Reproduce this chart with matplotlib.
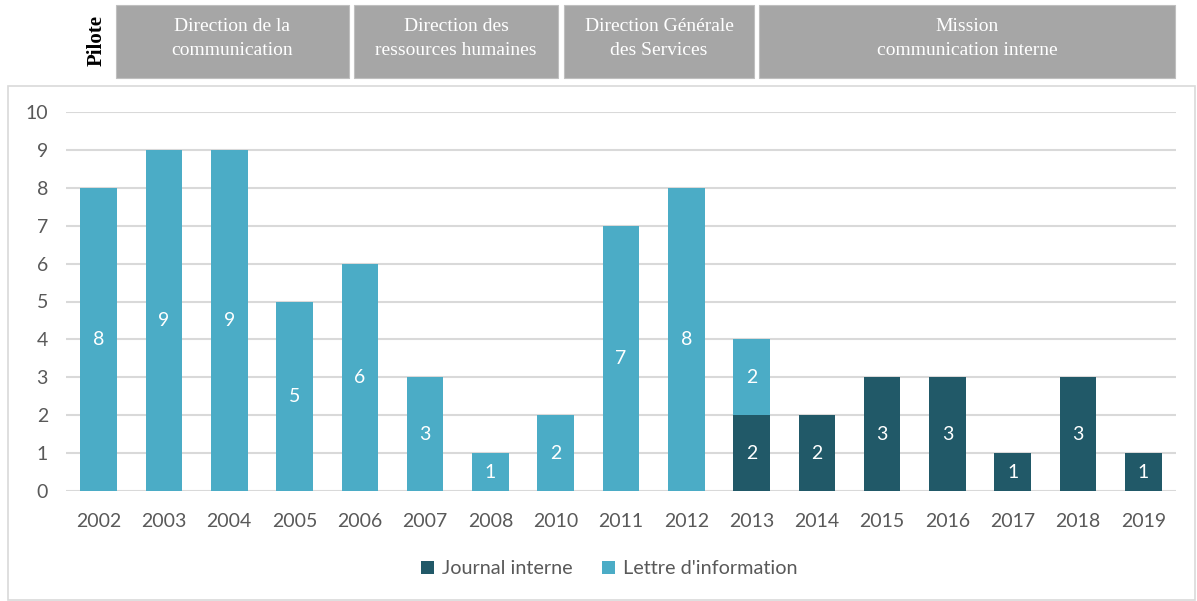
import matplotlib.pyplot as plt
from matplotlib.patches import Rectangle
import numpy as np

# Data
years = ["2002", "2003", "2004", "2005", "2006", "2007", "2008", "2010", "2011",
         "2012", "2013", "2014", "2015", "2016", "2017", "2018", "2019"]
journal = [0, 0, 0, 0, 0, 0, 0, 0, 0, 0, 2, 2, 3, 3, 1, 3, 1]
lettre = [8, 9, 9, 5, 6, 3, 1, 2, 7, 8, 2, 0, 0, 0, 0, 0, 0]

pilotes = ["Direction de la\ncommunication", "Direction des\nressources humaines",
           "Direction Générale\ndes Services", "Mission\ncommunication interne"]
# pixel spans of the header boxes
pilote_spans = [(116, 349), (354, 558), (564, 754), (759, 1175)]

dark = "#215968"
light = "#4bacc6"
grey_text = "#595959"

W, H = 1197, 601
fig = plt.figure(figsize=(W / 100, H / 100), dpi=100)

# Outer chart border (behind the axes)
fig.add_artist(Rectangle((8 / W, 1 - 600 / H), (1195 - 8) / W, (600 - 86) / H,
                         transform=fig.transFigure, facecolor="white",
                         edgecolor="#d9d9d9", linewidth=1.2, zorder=-5))

# Header boxes
for label, (x0, x1) in zip(pilotes, pilote_spans):
    fig.add_artist(Rectangle((x0 / W, 1 - 78 / H), (x1 - x0) / W, (78 - 5) / H,
                             transform=fig.transFigure, facecolor="#a6a6a6",
                             edgecolor="#bfbfbf", linewidth=0.8, zorder=-5))
    fig.text((x0 + x1) / 2 / W, 1 - 38.5 / H, label, ha="center", va="center",
             color="white", fontsize=14, family="Liberation Serif",
             linespacing=1.6)
fig.text(97 / W, 1 - 41 / H, "Pilote", rotation=90, ha="center", va="center",
         fontsize=15, fontweight="bold", family="Liberation Serif")

# Bar chart
ax = fig.add_axes([66 / W, 110 / H, 1110 / W, 379 / H])
x = np.arange(len(years))
width = 0.56
ax.bar(x, journal, width, color=dark, label="Journal interne", zorder=3)
ax.bar(x, lettre, width, bottom=journal, color=light, label="Lettre d'information", zorder=3)

for i in range(len(years)):
    if journal[i] > 0:
        ax.text(x[i], journal[i] / 2, str(journal[i]), ha="center", va="center",
                color="white", fontsize=14, family="Lato", zorder=4)
    if lettre[i] > 0:
        ax.text(x[i], journal[i] + lettre[i] / 2, str(lettre[i]), ha="center",
                va="center", color="white", fontsize=14, family="Lato", zorder=4)

ax.set_xlim(-0.5, len(years) - 0.5)
ax.set_ylim(0, 10)
ax.set_yticks(range(0, 11))
ax.set_xticks(x)
ax.set_xticklabels(years)
ax.tick_params(length=0, labelsize=14, labelcolor=grey_text)
for lbl in ax.get_xticklabels() + ax.get_yticklabels():
    lbl.set_family("Lato")
ax.tick_params(axis="x", pad=16)
ax.tick_params(axis="y", pad=13)
ax.grid(axis="y", color="#d9d9d9", linewidth=1.5, zorder=0)
for s in ax.spines.values():
    s.set_visible(False)
ax.set_facecolor("none")

leg = fig.legend(loc="center", bbox_to_anchor=(609 / W, 1 - 569 / H), ncol=2,
                 frameon=False, handlelength=0.65, handleheight=0.65,
                 columnspacing=1.5, handletextpad=0.4,
                 prop={"family": "Lato", "size": 14.3})
for t in leg.get_texts():
    t.set_color(grey_text)

fig.savefig("out.png", dpi=100)
